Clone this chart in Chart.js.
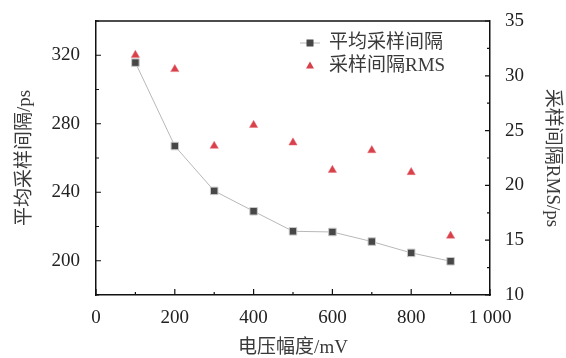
<!DOCTYPE html>
<html>
<head>
<meta charset="utf-8">
<script src="https://cdn.jsdelivr.net/npm/chart.js@4/dist/chart.umd.min.js"></script>
<style>
  html, body { margin: 0; padding: 0; background: #fff; }
  #wrap { width: 566px; height: 358px; }
</style>
</head>
<body>
<div id="wrap"><canvas id="chart" width="566" height="358"></canvas></div>
<script>
// Data
const voltages = [100, 200, 300, 400, 500, 600, 700, 800, 900];
const meanInterval = [315.7, 267, 240.8, 228.9, 217.2, 216.8, 211.2, 204.6, 199.7];
const intervalRms = [31.9, 30.6, 23.6, 25.5, 23.9, 21.4, 23.2, 21.2, 15.4];

const seriesNames = ['平均采样间隔', '采样间隔RMS'];
const xTicks = [0, 200, 400, 600, 800, 1000];
const yTicks = [200, 240, 280, 320];
const y1Ticks = [10, 15, 20, 25, 30, 35];

const FONT = '"Liberation Serif", "Noto Sans CJK SC", serif';
const INK = '#222';
const TITLE_INK = '#3a3a3a';

// inward ticks (major + minor) and the top frame line
const frameTicks = {
  id: 'frameTicks',
  afterDraw(chart) {
    const ctx = chart.ctx, a = chart.chartArea;
    const sx = chart.scales.x, sy = chart.scales.y, sy1 = chart.scales.y1;
    ctx.save();
    ctx.strokeStyle = '#111';
    ctx.lineWidth = 1.5;
    ctx.beginPath();
    ctx.moveTo(a.left, a.top); ctx.lineTo(a.right, a.top);
    ctx.stroke();
    ctx.lineWidth = 1.2;
    ctx.beginPath();
    for (let v = 0; v <= 1000; v += 100) {
      const px = sx.getPixelForValue(v);
      const len = v % 200 === 0 ? 6 : 3;
      ctx.moveTo(px, a.bottom); ctx.lineTo(px, a.bottom - len);
    }
    for (let v = 180; v <= 340; v += 20) {
      const py = sy.getPixelForValue(v);
      const len = yTicks.includes(v) ? 5 : 3;
      ctx.moveTo(a.left, py); ctx.lineTo(a.left + len, py);
    }
    for (let v = 10; v <= 35; v += 2.5) {
      const py = sy1.getPixelForValue(v);
      const len = y1Ticks.includes(v) ? 5 : 3;
      ctx.moveTo(a.right, py); ctx.lineTo(a.right - len, py);
    }
    ctx.stroke();
    ctx.restore();
  }
};

// legend inside the plot, top right
const innerLegend = {
  id: 'innerLegend',
  afterDraw(chart) {
    const ctx = chart.ctx;
    const ds = chart.data.datasets;
    const x0 = 310, rows = [43, 66];
    ctx.save();
    ctx.font = '19px ' + FONT;
    ctx.textBaseline = 'middle';
    ctx.textAlign = 'left';
    // row 1: line + square
    ctx.strokeStyle = ds[0].borderColor;
    ctx.lineWidth = 1;
    ctx.beginPath();
    ctx.moveTo(x0 - 10, rows[0]); ctx.lineTo(x0 + 10, rows[0]);
    ctx.stroke();
    ctx.fillStyle = ds[0].pointBackgroundColor;
    ctx.fillRect(x0 - 3.5, rows[0] - 3.5, 7, 7);
    ctx.fillStyle = TITLE_INK;
    ctx.fillText(ds[0].label, 329, rows[0]);
    // row 2: triangle
    ctx.fillStyle = ds[1].pointBackgroundColor;
    ctx.beginPath();
    ctx.moveTo(x0, rows[1] - 4.5);
    ctx.lineTo(x0 + 4, rows[1] + 2.5);
    ctx.lineTo(x0 - 4, rows[1] + 2.5);
    ctx.closePath();
    ctx.fill();
    ctx.fillStyle = TITLE_INK;
    ctx.fillText(ds[1].label, 329, rows[1]);
    ctx.restore();
  }
};

const setTicks = list => scale => { scale.ticks = list.map(v => ({ value: v })); };
const fitV = w => s => { s.width = w; s.paddingTop = 0; s.paddingBottom = 0; };

new Chart(document.getElementById('chart'), {
  type: 'line',
  data: {
    datasets: [
      {
        label: seriesNames[0],
        data: voltages.map((v, i) => ({ x: v, y: meanInterval[i] })),
        yAxisID: 'y',
        borderColor: '#b8b8b8',
        borderWidth: 1,
        pointStyle: 'rect',
        pointRadius: 5.3,
        pointBackgroundColor: '#474747',
        pointBorderColor: '#c8c8c8',
        pointBorderWidth: 1,
        tension: 0
      },
      {
        label: seriesNames[1],
        data: voltages.map((v, i) => ({ x: v, y: intervalRms[i] })),
        yAxisID: 'y1',
        showLine: false,
        pointStyle: 'triangle',
        pointRadius: 4.8,
        pointBackgroundColor: '#d8404a',
        pointBorderColor: '#e8707a',
        pointBorderWidth: 0.5
      }
    ]
  },
  options: {
    responsive: false,
    animation: false,
    layout: { padding: { top: 21, left: 0, right: 0, bottom: 0 } },
    plugins: { legend: { display: false }, tooltip: { enabled: false } },
    scales: {
      x: {
        type: 'linear',
        min: 0, max: 1000,
        afterBuildTicks: setTicks(xTicks),
        afterFit: s => { s.height = 63; s.paddingLeft = 0; s.paddingRight = 0; },
        grid: { display: true, drawOnChartArea: false, drawTicks: false },
        border: { color: '#111', width: 1.5 },
        ticks: {
          color: INK, padding: 12, maxRotation: 0,
          font: { family: FONT, size: 19 },
          callback: v => v === 1000 ? '1 000' : String(v)
        },
        title: {
          display: true, text: '电压幅度/mV', color: TITLE_INK,
          font: { family: FONT, size: 19 }, padding: { top: 0, bottom: -1 }
        }
      },
      y: {
        position: 'left',
        min: 180, max: 340,
        afterBuildTicks: setTicks(yTicks),
        afterFit: fitV(96),
        grid: { display: true, drawOnChartArea: false, drawTicks: false },
        border: { color: '#111', width: 1.5 },
        ticks: { color: INK, padding: 16, font: { family: FONT, size: 19 } },
        title: {
          display: true, text: '平均采样间隔/ps', color: TITLE_INK,
          font: { family: FONT, size: 19 }, padding: { top: 14, bottom: 0 }
        }
      },
      y1: {
        position: 'right',
        min: 10, max: 35,
        afterBuildTicks: setTicks(y1Ticks),
        afterFit: fitV(76),
        grid: { display: true, drawOnChartArea: false, drawTicks: false },
        border: { color: '#111', width: 1.5 },
        ticks: { color: INK, padding: 15, font: { family: FONT, size: 19 } },
        title: {
          display: true, text: '采样间隔RMS/ps', color: TITLE_INK,
          font: { family: FONT, size: 19 }, padding: { top: 3, bottom: 0 }
        }
      }
    }
  },
  plugins: [frameTicks, innerLegend]
});
</script>
</body>
</html>
